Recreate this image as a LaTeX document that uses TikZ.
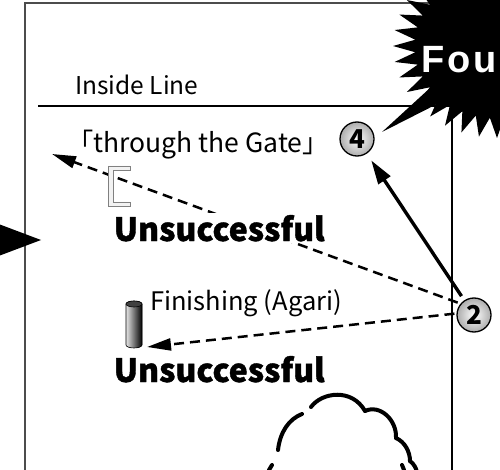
\documentclass[tikz,border=0pt]{standalone}
\usepackage{fontspec}
\setmainfont{Noto Sans CJK JP}
\newfontfamily\burstfont{Liberation Sans}
\usetikzlibrary{arrows.meta,calc}
\begin{document}
\begin{tikzpicture}[x=1pt,y=-1pt,
  frameline/.style={line width=1.4pt,black!70},
  track/.style={line width=2.2pt,black},
  txt/.style={inner sep=0pt,anchor=base west},
  verdict/.style={inner sep=1.5pt,anchor=base west,fill=white,
    font=\fontsize{32}{36}\selectfont\bfseries\addfontfeature{FakeBold=1.2}},
  badge/.style={circle,draw=black,line width=1.3pt,minimum size=34pt,inner sep=0pt,
    inner color=white,outer color=gray!65,font=\fontsize{26}{28}\selectfont\bfseries},
  move/.style={line width=3.4pt,-{Triangle[length=24pt,width=14pt]}},
  miss/.style={line width=2.5pt,dash pattern=on 10pt off 6pt,-{Triangle[length=24pt,width=12pt]}},
  cloudline/.style={line width=4pt,line cap=round}]
\useasboundingbox (0,0) rectangle (500,470);

% outer frame and track lines
\draw[frameline] (25,470) -- (25,3) -- (500,3);
\draw[track] (38,106) -- (452,106) -- (452,470);

% text labels
\node[txt, font=\fontsize{24.5}{28}\selectfont] (inside) at (75,95) {Inside Line};
\node[txt, font=\fontsize{26.5}{30}\selectfont] (gate) at (80,153) {｢through the Gate｣};
\node[txt, font=\fontsize{25.5}{30}\selectfont] (finish) at (150,310) {Finishing (Agari)};

% position markers
\node[badge] (c4) at (357,139) {4};
\node[badge] (c2) at (474,315) {2};

% arrow tips of the failed moves
\coordinate (gtip) at (52,154);
\coordinate (ptip) at (147,347);

% moves
\draw[miss, shorten <=3pt] (c2.140) -- (gtip);
\draw[miss, shorten <=2pt] (c2.175) -- (ptip);
\draw[move, shorten <=5pt, shorten >=8pt] (c2) -- (c4);

% gate bracket
\draw[gray, line width=0.8pt, fill=gray!10] (130,166) -- (108,166) -- (108,206) -- (130,206)
  -- (130,202) -- (113,202) -- (113,170) -- (130,170) -- cycle;

% finishing pole
\filldraw[left color=gray!20, right color=black, draw=black, line width=0.6pt] (126,304) -- (126,345)
  arc[start angle=180, end angle=360, x radius=8pt, y radius=3pt] -- (142,304)
  arc[start angle=0, end angle=180, x radius=8pt, y radius=3pt] -- cycle;
\filldraw[fill=black!75, draw=black, line width=0.6pt] (134,304) ellipse [x radius=8pt, y radius=3pt];

% results
\node[verdict] (miss1) at (112,241) {Unsuccessful};
\node[verdict] (miss2) at (112,382) {Unsuccessful};

% starburst
\fill[black] plot[samples at={0,...,71}, variable=\k]
  ({497+ifthenelse(mod(\k,2)==0,104,82)*cos(\k*5)}, {46+ifthenelse(mod(\k,2)==0,92,72)*sin(\k*5)}) -- cycle;
\fill[black] (430,88) -- (382,132) -- (445,100) -- cycle;
\node[white, anchor=base west, inner sep=0pt,
  font=\burstfont\bfseries\fontsize{38}{42}\selectfont] (foul) at (421,73) {F\kern3pt o\kern3pt u};

% incoming arrow on the left
\fill[black] (-20,217) -- (41,240) -- (-20,263) -- cycle;

% cloud
\draw[cloudline] (278,450) .. controls (280,432) and (289,419) .. (302,414);
\draw[cloudline] (311,407) .. controls (322,392) and (352,388) .. (365,411);
\draw[cloudline] (365,411) .. controls (380,404) and (397,420) .. (396,438);
\draw[cloudline] (396,438) .. controls (405,442) and (410,452) .. (410,461);
\draw[cloudline] (410,461) .. controls (414,464) and (416,468) .. (417,472);
\draw[cloudline] (269,470) -- (272,465);
\draw[cloudline] (402,465) -- (404,470);
\end{tikzpicture}
\end{document}
